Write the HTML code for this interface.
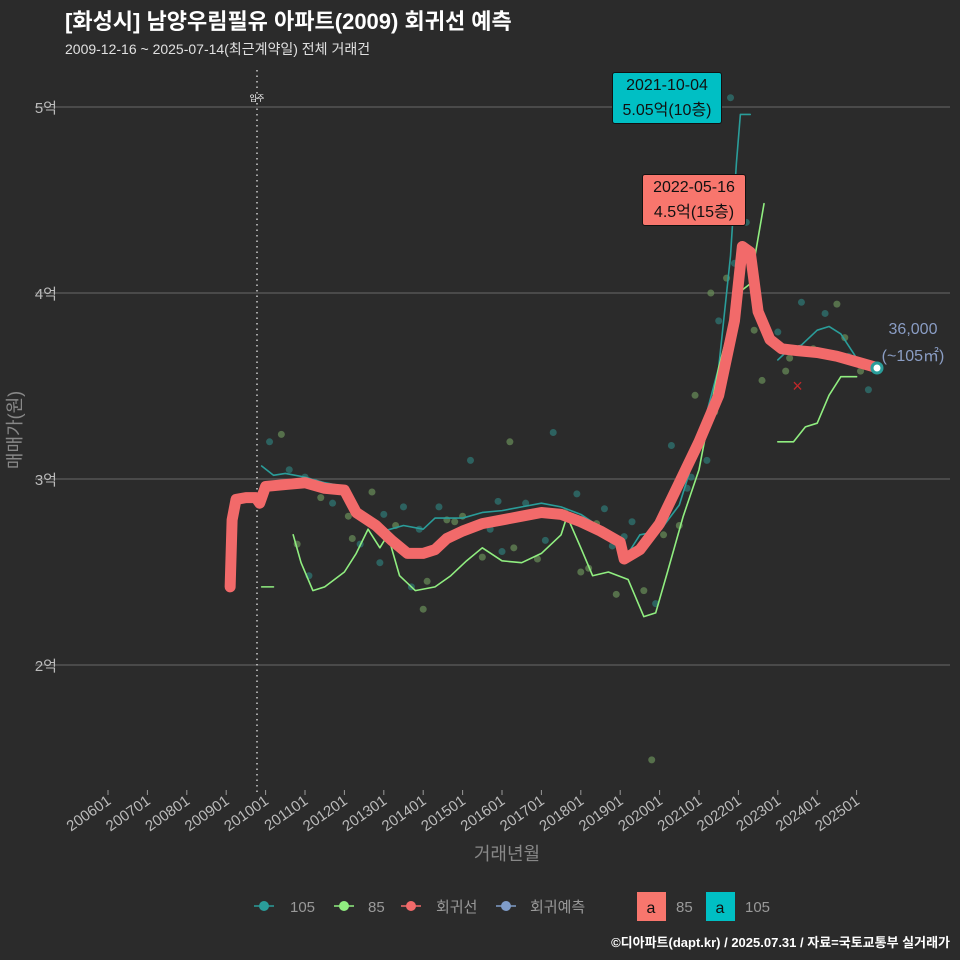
<!DOCTYPE html>
<html><head><meta charset="utf-8">
<style>
html,body{margin:0;padding:0;background:#2b2b2b;}
body{width:960px;height:960px;overflow:hidden;position:relative;font-family:"Liberation Sans","Noto Sans CJK KR",sans-serif;}
svg{display:block;}
svg text{font-family:"Liberation Sans","Noto Sans CJK KR",sans-serif;}
</style></head>
<body>
<svg id="chart" width="960" height="960" viewBox="0 0 960 960" xmlns="http://www.w3.org/2000/svg">
<rect x="0" y="0" width="960" height="960" fill="#2b2b2b"/>
<text x="65" y="29" fill="#ffffff" font-size="22" font-weight="bold">[화성시] 남양우림필유 아파트(2009) 회귀선 예측</text>
<text x="65" y="54" fill="#e0e0e0" font-size="14">2009-12-16 ~ 2025-07-14(최근계약일) 전체 거래건</text>
<g id="grid"></g>
<g id="marks"></g>
<g id="xaxis"></g>
<text x="507" y="860" fill="#888" font-size="18" text-anchor="middle">거래년월</text>
<text transform="translate(21,430) rotate(-90)" fill="#888" font-size="18" text-anchor="middle">매매가(원)</text>
<g>
 <g><line x1="254" y1="906" x2="274" y2="906" stroke="#2a9d9a" stroke-width="1.5"/><circle cx="264" cy="906" r="5" fill="#2a9d9a"/><text x="290" y="912" fill="#999" font-size="15">105</text></g>
 <g><line x1="334" y1="906" x2="354" y2="906" stroke="#90ee80" stroke-width="1.5"/><circle cx="344" cy="906" r="5" fill="#90ee80"/><text x="368" y="912" fill="#999" font-size="15">85</text></g>
 <g><line x1="401" y1="906" x2="421" y2="906" stroke="#f26a6a" stroke-width="1.5"/><circle cx="411" cy="906" r="5" fill="#f26a6a"/><text x="436" y="912" fill="#999" font-size="15">회귀선</text></g>
 <g><line x1="496" y1="906" x2="516" y2="906" stroke="#7f9cc8" stroke-width="1.5"/><circle cx="506" cy="906" r="5" fill="#7f9cc8"/><text x="530" y="912" fill="#999" font-size="15">회귀예측</text></g>
 <g><rect x="637" y="892" width="29" height="29" fill="#f8766d"/><text x="651" y="913" fill="#111" font-size="16" text-anchor="middle">a</text><text x="676" y="912" fill="#999" font-size="15">85</text></g>
 <g><rect x="706" y="892" width="29" height="29" fill="#00bfc4"/><text x="720" y="913" fill="#111" font-size="16" text-anchor="middle">a</text><text x="745" y="912" fill="#999" font-size="15">105</text></g>
</g>
<text x="950" y="947" fill="#ffffff" font-size="13" font-weight="bold" text-anchor="end">©디아파트(dapt.kr) / 2025.07.31 / 자료=국토교통부 실거래가</text>
</svg>
<script>
const yTicks=[20000,30000,40000,50000];
const yTickLabels=['2억','3억','4억','5억'];
const xTicks=[2006,2007,2008,2009,2010,2011,2012,2013,2014,2015,2016,2017,2018,2019,2020,2021,2022,2023,2024,2025];
const xTickLabels=['200601','200701','200801','200901','201001','201101','201201','201301','201401','201501','201601','201701','201801','201901','202001','202101','202201','202301','202401','202501'];
const regT=[2009.1,2009.15,2009.25,2009.5,2009.75,2009.85,2010.0,2010.5,2011.0,2011.5,2012.0,2012.3,2012.8,2013.2,2013.6,2014.0,2014.3,2014.6,2015.0,2015.5,2016.0,2016.5,2017.0,2017.5,2018.0,2018.5,2019.0,2019.1,2019.5,2020.0,2020.5,2021.0,2021.5,2021.9,2022.1,2022.3,2022.5,2022.8,2023.1,2023.5,2024.0,2024.5,2025.0,2025.5];
const regV=[24200,27800,28900,29000,29000,28700,29600,29700,29800,29500,29400,28200,27500,26700,26000,26000,26200,26800,27200,27600,27800,28000,28200,28100,27700,27200,26600,25700,26200,27600,29800,32000,34500,38500,42500,42200,39000,37500,37000,36900,36800,36600,36300,36000];
const t105=[2009.9,2010.2,2010.5,2011.0,2011.5,2012.0,2012.5,2013.0,2013.5,2014.0,2014.3,2015.0,2015.5,2016.0,2016.5,2017.0,2017.5,2018.0,2018.5,2019.0,2019.2,2019.5,2020.0,2020.5,2021.0,2021.5,2021.8,2021.95,2022.05,2022.3];
const v105=[30700,30200,30300,30100,29800,29600,28000,27200,27500,27300,27900,27900,28200,28300,28500,28700,28500,28100,27400,26800,26000,27000,27200,28600,32000,36000,42000,47000,49600,49600];
const t105b=[2023.0,2023.3,2023.6,2024.0,2024.3,2024.6,2025.0,2025.5];
const v105b=[36400,37000,37200,38000,38200,37800,36500,36000];
const t85a=[2009.9,2010.2];
const v85a=[24200,24200];
const t85=[2010.7,2010.9,2011.2,2011.5,2012.0,2012.3,2012.6,2012.9,2013.1,2013.4,2013.8,2014.3,2014.7,2015.1,2015.5,2016.0,2016.5,2017.0,2017.5,2017.65,2018.0,2018.3,2018.7,2019.2,2019.6,2019.9,2020.2,2020.6,2021.0,2021.5,2022.0,2022.3,2022.65];
const v85=[27000,25500,24000,24200,25000,26000,27300,26300,27000,24800,24000,24200,24800,25600,26300,25600,25500,26000,27000,28000,26300,24800,25000,24600,22600,22800,25000,28000,30500,36000,40000,40500,44800];
const t85b=[2023.0,2023.4,2023.7,2024.0,2024.3,2024.6,2025.0];
const v85b=[32000,32000,32800,33000,34500,35500,35500];
const dotsT=[2010.1,2010.4,2010.6,2010.8,2011.1,2011.4,2011.7,2012.1,2012.4,2012.7,2013.0,2013.3,2013.7,2014.1,2014.4,2014.8,2015.2,2015.5,2015.9,2016.2,2016.6,2016.9,2017.3,2017.6,2017.9,2018.2,2018.6,2018.9,2019.3,2019.6,2019.9,2020.1,2020.3,2020.5,2020.7,2020.9,2021.1,2021.3,2021.5,2021.7,2021.8,2022.0,2022.2,2022.4,2023.0,2023.3,2023.6,2023.9,2024.2,2024.5,2024.8,2025.1,2025.3,2019.8,2012.9,2014.0,2016.0,2018.0,2021.2,2022.6,2011.0,2012.2,2013.5,2014.6,2015.7,2016.8,2017.1,2018.4,2019.1,2020.0,2020.8,2021.4,2021.9,2023.2,2024.0,2024.7,2013.9,2016.3,2018.8,2015.0];
const dotsV=[32000,32400,30500,26500,24800,29000,28700,28000,26500,29300,28100,27500,24200,24500,28500,27700,31000,25800,28800,32000,28700,25700,32500,28200,29200,25200,28400,23800,27700,24000,23300,27000,31800,27500,29500,34500,32500,40000,38500,40800,50500,40500,43800,38000,37900,36500,39500,37000,38900,39400,36600,35800,34800,14900,25500,23000,26100,25000,31000,35300,30100,26800,28500,27800,27300,28200,26700,27600,26900,27400,30100,33600,41600,35800,36900,37600,27300,26300,26400,28000];
const X0=108,PX=39.4,Y0=479,PY=0.0186;
function xs(t){return X0+(t-2006)*PX;}
function ys(v){return Y0-(v-30000)*PY;}
const NS='http://www.w3.org/2000/svg';
function mk(tag,attrs,parent){const e=document.createElementNS(NS,tag);for(const k in attrs)e.setAttribute(k,attrs[k]);parent.appendChild(e);return e;}
const grid=document.getElementById('grid'),marks=document.getElementById('marks'),xaxis=document.getElementById('xaxis');
yTicks.forEach((v,i)=>{
 const l=mk('line',{x1:35,x2:950,y1:ys(v),y2:ys(v),stroke:'#6a6a6a','stroke-width':1},grid);
 
 
 const t=mk('text',{x:57,y:ys(v)+6,fill:'#bbb','font-size':15,'text-anchor':'end'},grid);
 t.textContent=yTickLabels[i];
 
 
});
xTicks.forEach((tk,i)=>{
 const x=xs(tk);
 const l=mk('line',{x1:x,x2:x,y1:790,y2:795,stroke:'#999'},xaxis);
 
 
 const t=mk('text',{transform:`translate(${x+4},803) rotate(-35)`,fill:'#bbb','font-size':15,'text-anchor':'end'},xaxis);
 t.textContent=xTickLabels[i];
 
 
});
const vline=mk('line',{x1:257,x2:257,y1:70,y2:792,stroke:'#ccc','stroke-width':1.5,'stroke-dasharray':'1.5,4'},grid);


const vt=mk('text',{x:257,y:101,fill:'#fff','font-size':8,'text-anchor':'middle'},grid);vt.textContent='입주';


dotsT.forEach((t,i)=>{
 const c=mk('circle',{cx:xs(t),cy:ys(dotsV[i]),r:3.5,fill:i%2?'#6a8f5a':'#2f7a78','fill-opacity':0.7},marks);
 
 
});
function poly(T,V,stroke,w,name){
 const p=mk('polyline',{points:T.map((t,i)=>xs(t)+','+ys(V[i])).join(' '),fill:'none',stroke:stroke,'stroke-width':w,'stroke-linejoin':'round','stroke-linecap':'round'},marks);
 
 
}
poly(t105,v105,'#2a9d9a',1.6,'line-105');
poly(t105b,v105b,'#2a9d9a',1.6,'line-105-recent');
poly(t85a,v85a,'#90ee80',1.6,'line-85-early');
poly(t85,v85,'#90ee80',1.6,'line-85');
poly(t85b,v85b,'#90ee80',1.6,'line-85-recent');
poly(regT,regV,'#f26a6a',11,'regression-line');
const cx=mk('text',{x:xs(2023.5),y:ys(35000)+6,fill:'#c0282a','font-size':18,'text-anchor':'middle'},marks);cx.textContent='×';


const pp=mk('circle',{cx:877,cy:368,r:5,fill:'#fff',stroke:'#2a9d9a','stroke-width':3},marks);


</script>
<div style="position:absolute;left:612px;top:72px;width:110px;height:52px;background:#00bfc4;border-radius:3px;border:1px solid #111;box-sizing:border-box;color:#111;font-size:16px;text-align:center;line-height:25px;">2021-10-04<br>5.05억(10층)</div>
<div style="position:absolute;left:642px;top:174px;width:104px;height:52px;background:#f8766d;border-radius:3px;border:1px solid #111;box-sizing:border-box;color:#111;font-size:16px;text-align:center;line-height:25px;">2022-05-16<br>4.5억(15층)</div>
<div style="position:absolute;left:868px;top:316px;width:90px;color:#8a9dc4;font-size:16px;text-align:center;line-height:27px;">36,000<br>(~105㎡)</div>
</body></html>
